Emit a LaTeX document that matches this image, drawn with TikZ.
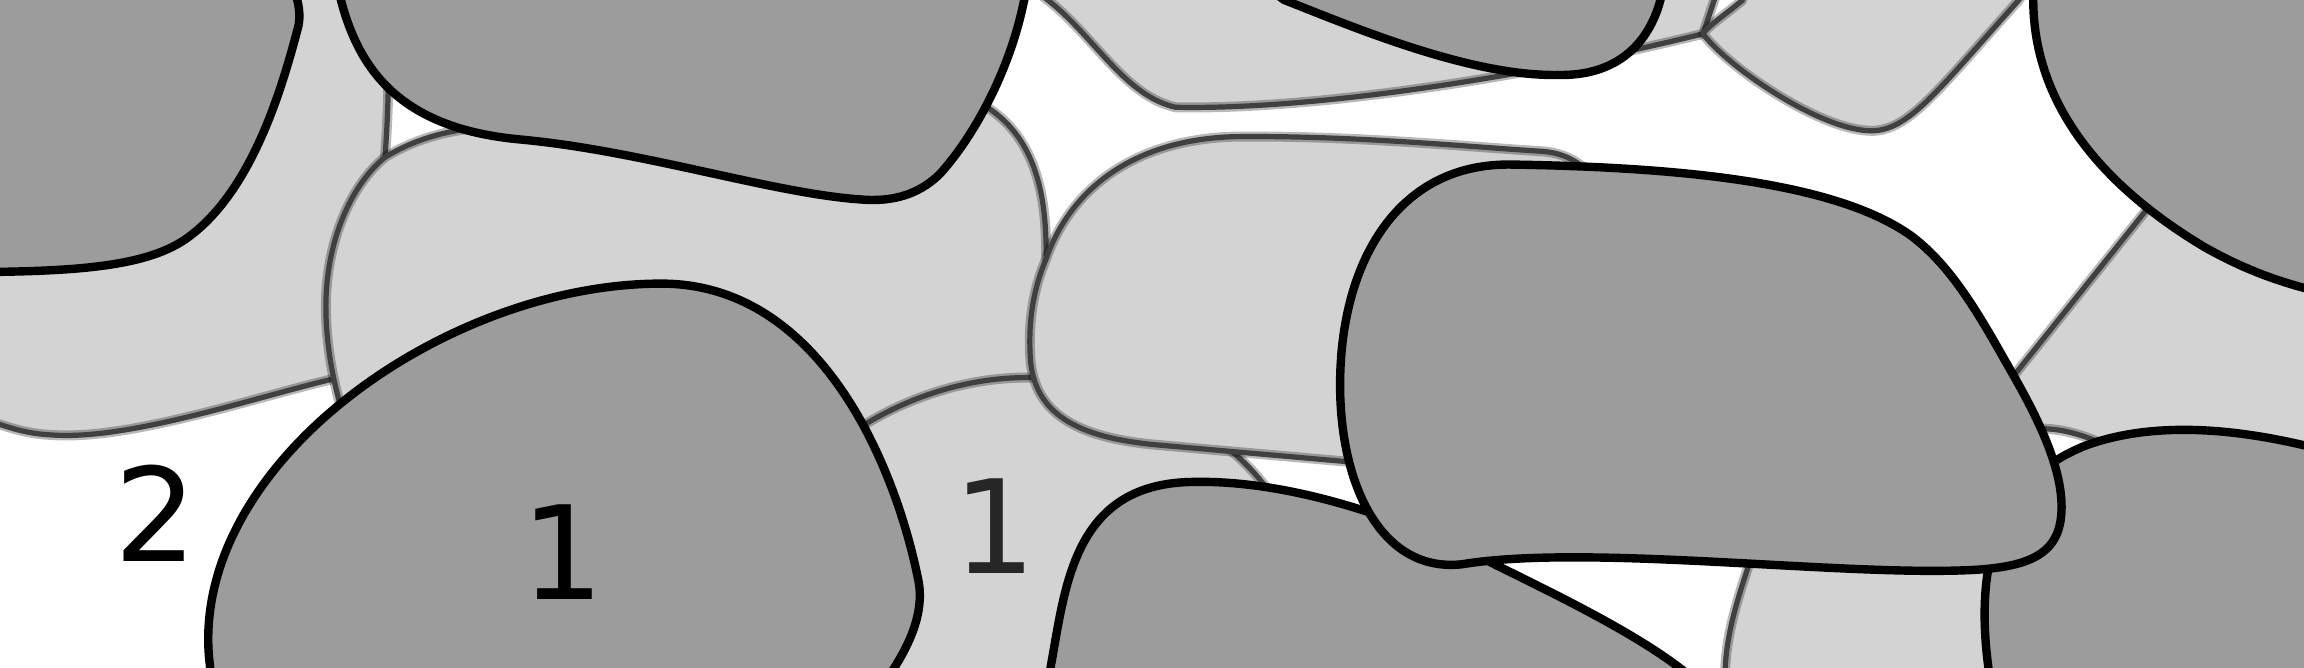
\documentclass[tikz,border=0pt]{standalone}
\usepackage{fontspec}
\newfontfamily\digitfont{DejaVu Sans}
\definecolor{lg}{HTML}{D3D3D3}
\definecolor{dg}{HTML}{9C9C9C}
\begin{document}
\begin{tikzpicture}[x=0.7347pt,y=-0.7347pt,
  lblob/.style={fill=lg,
    postaction={draw=black,draw opacity=0.28,line width=5pt,line join=round},
    postaction={draw=black!75,line width=2.6pt,line join=round}},
  dblob/.style={fill=dg,draw=black,line width=4.2pt,line join=round},
  digit/.style={font=\digitfont\fontsize{65}{70}\selectfont,anchor=base,inner sep=0pt}]
\useasboundingbox (0,0) rectangle (1568,454);
\clip (0,0) rectangle (1568,454);
\fill[white] (0,0) rectangle (1568,454);
% light blobs
\path[lblob] (-10,-10) -- (262,-10) .. controls (266,40) and (264,80) .. (262,107)
  .. controls (255,180) and (250,240) .. (235,256)
  .. controls (180,268) and (90,300) .. (35,296)
  .. controls (15,295) and (5,290) .. (-10,286) -- cycle;
\path[lblob] (262,107) .. controls (285,93) and (310,87) .. (340,86) -- (640,60)
  .. controls (705,75) and (712,130) .. (712,174)
  .. controls (730,260) and (700,320) .. (600,330) -- (250,320)
  .. controls (232,290) and (220,240) .. (222,200)
  .. controls (224,160) and (240,125) .. (262,107) -- cycle;
\path[lblob] (560,320) -- (590,288) .. controls (620,270) and (660,256) .. (703,257)
  .. controls (780,258) and (840,300) .. (864,335) -- (880,460) -- (580,460) -- cycle;
\path[lblob] (712,176) .. controls (728,130) and (770,95) .. (840,93)
  .. controls (920,92) and (1000,100) .. (1050,103)
  .. controls (1090,106) and (1110,150) .. (1100,220) -- (960,318) -- (790,303)
  .. controls (730,298) and (702,280) .. (701,240)
  .. controls (700,215) and (704,195) .. (712,176) -- cycle;
\path[lblob] (1195,370) .. controls (1185,400) and (1174,430) .. (1174,460) -- (1360,460) -- (1360,370) -- cycle;
\path[lblob] (1479,120) -- (1371,255) .. controls (1355,275) and (1360,290) .. (1395,292)
  .. controls (1410,293) and (1430,300) .. (1445,310) -- (1580,320) -- (1580,110) -- cycle;
\path[lblob] (700,-10) -- (713,0) .. controls (745,25) and (765,65) .. (800,73)
  .. controls (900,75) and (1050,50) .. (1159,23) -- (1170,-10) -- cycle;
\path[lblob] (1186,-10) -- (1186,0) .. controls (1174,10) and (1162,18) .. (1159,23)
  .. controls (1175,45) and (1240,90) .. (1275,89)
  .. controls (1300,88) and (1320,60) .. (1374,0) -- (1380,-10) -- cycle;
% dark blobs
\path[dblob] (-30,-30) -- (190,-30) .. controls (200,-10) and (206,5) .. (203,18)
  .. controls (192,60) and (172,128) .. (130,160)
  .. controls (105,180) and (60,184) .. (0,185) -- (-30,185) -- cycle;
\path[dblob] (228,-20) -- (232,0) .. controls (245,50) and (275,88) .. (355,95)
  .. controls (440,103) and (530,133) .. (590,136)
  .. controls (612,137) and (628,130) .. (640,118)
  .. controls (665,90) and (688,45) .. (697,0) -- (705,-30) -- cycle;
\path[dblob] (140,470) -- (143,454) .. controls (125,320) and (300,193) .. (450,193)
  .. controls (560,193) and (610,320) .. (625,395)
  .. controls (630,420) and (615,445) .. (605,460) -- cycle;
\path[dblob] (715,470) -- (715,454) .. controls (725,400) and (730,330) .. (810,328)
  .. controls (880,326) and (960,355) .. (1019,385)
  .. controls (1070,410) and (1120,435) .. (1150,460) -- cycle;
\path[dblob] (1354,470) -- (1354,460) .. controls (1345,400) and (1350,330) .. (1420,303)
  .. controls (1470,285) and (1530,293) .. (1580,306) -- (1580,470) -- cycle;
\path[dblob] (1030,112) .. controls (1150,114) and (1250,125) .. (1300,160)
  .. controls (1330,182) and (1350,220) .. (1370,255)
  .. controls (1390,290) and (1403,320) .. (1403,345)
  .. controls (1403,375) and (1385,386) .. (1340,388)
  .. controls (1250,392) and (1080,370) .. (995,384)
  .. controls (940,390) and (912,330) .. (912,262)
  .. controls (912,180) and (950,110) .. (1030,112) -- cycle;
\path[dblob] (1384,-10) .. controls (1380,60) and (1420,120) .. (1500,168)
  .. controls (1530,185) and (1555,193) .. (1580,199) -- (1580,-10) -- cycle;
\path[dblob] (860,-10) -- (874,0) .. controls (920,18) and (1000,52) .. (1060,51)
  .. controls (1100,52) and (1122,30) .. (1130,0) -- (1132,-10) -- cycle;
% labels
\node[digit] (two) at (106,382) {2};
\node[digit] (oneA) at (383,408) {1};
\node[digit,text=black!85] (oneB) at (677,390) {1};
\end{tikzpicture}
\end{document}
